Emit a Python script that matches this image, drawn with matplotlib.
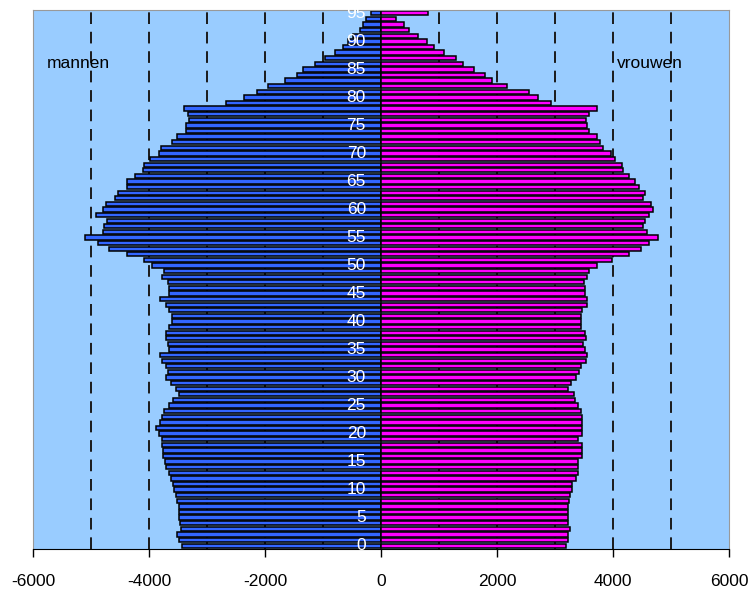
import numpy as np
import matplotlib
matplotlib.use("Agg")
import matplotlib.pyplot as plt

plt.rcParams['font.family'] = ['Liberation Sans', 'DejaVu Sans']

# ages 0..95
ages = list(range(0, 96))

# men (plotted negative), age 0 first
mannen = [
    3430, 3480, 3510, 3450, 3470, 3480, 3490, 3490, 3510, 3540,   # 0-9
    3570, 3590, 3620, 3660, 3700, 3720, 3750, 3750, 3770, 3780,   # 10-19
    3830, 3880, 3810, 3780, 3740, 3660, 3590, 3490, 3540, 3620,   # 20-29
    3710, 3680, 3710, 3770, 3810, 3660, 3680, 3710, 3700, 3650,   # 30-39
    3610, 3610, 3650, 3710, 3810, 3660, 3660, 3680, 3770, 3740,   # 40-49
    3950, 4080, 4380, 4690, 4880, 5110, 4790, 4780, 4730, 4910,   # 50-59
    4790, 4740, 4590, 4540, 4380, 4380, 4250, 4110, 4080, 3990,   # 60-69
    3830, 3790, 3610, 3510, 3370, 3370, 3310, 3320, 3390, 2680,   # 70-79
    2370, 2140, 1940, 1650, 1450, 1340, 1140, 970, 790, 650,      # 80-89
    570, 480, 370, 310, 250, 170,                                 # 90-95
]

vrouwen = [
    3190, 3220, 3220, 3260, 3220, 3220, 3220, 3220, 3250, 3260,   # 0-9
    3290, 3290, 3370, 3390, 3390, 3390, 3460, 3460, 3460, 3390,   # 10-19
    3460, 3460, 3460, 3460, 3450, 3390, 3350, 3320, 3230, 3270,   # 20-29
    3370, 3410, 3450, 3540, 3560, 3520, 3490, 3540, 3520, 3450,   # 30-39
    3450, 3450, 3460, 3560, 3560, 3520, 3520, 3500, 3560, 3590,   # 40-49
    3730, 3980, 4280, 4490, 4620, 4770, 4590, 4520, 4550, 4620,   # 50-59
    4690, 4660, 4510, 4550, 4450, 4380, 4280, 4180, 4150, 4030,   # 60-69
    3970, 3830, 3770, 3720, 3590, 3550, 3540, 3580, 3720, 2930,   # 70-79
    2700, 2550, 2180, 1920, 1790, 1610, 1410, 1290, 1090, 920,    # 80-89
    790, 630, 490, 390, 260, 810,                                 # 90-95
]

age_labels = [str(a) for a in range(0, 96, 5)]
x_ticks = [-6000, -4000, -2000, 0, 2000, 4000, 6000]
grid_x = [-5000, -4000, -3000, -2000, -1000, 1000, 2000, 3000, 4000, 5000]

fig = plt.figure(figsize=(7.53, 5.90), dpi=100)
ax = fig.add_axes([33 / 753, 41 / 590, 696 / 753, 539 / 590])
ax.set_facecolor('#99CCFF')

# dashed reference lines behind the bars
for gx in grid_x:
    ax.axvline(gx, color='#1a1a1a', linestyle=(0, (6, 4)), linewidth=1.4, zorder=1)

ax.barh(ages, [-m for m in mannen], height=0.76, color='#3366FF',
        edgecolor='black', linewidth=1.1, zorder=2)
ax.barh(ages, vrouwen, height=0.76, color='#FF00FF',
        edgecolor='black', linewidth=1.1, zorder=2)

ax.set_xlim(-6000, 6000)
ax.set_ylim(-0.6, 95.6)
ax.set_xticks(x_ticks)
ax.set_xticklabels([str(t) for t in x_ticks], fontsize=12.5)
ax.tick_params(axis='x', direction='out', length=6, width=1, pad=12)
ax.set_yticks([])

# white age labels drawn just left of the centre line
for lab in age_labels:
    ax.text(-260, int(lab), lab, color='white', fontsize=12.5,
            ha='right', va='center', zorder=3)

ax.text(-5760, 86, 'mannen', fontsize=12.5, ha='left', va='center', color='black')
ax.text(4060, 86, 'vrouwen', fontsize=12.5, ha='left', va='center', color='black')

for side in ['left', 'right', 'top']:
    ax.spines[side].set_color('#999999')
ax.spines['bottom'].set_color('black')

fig.savefig('out.png', dpi=100)
